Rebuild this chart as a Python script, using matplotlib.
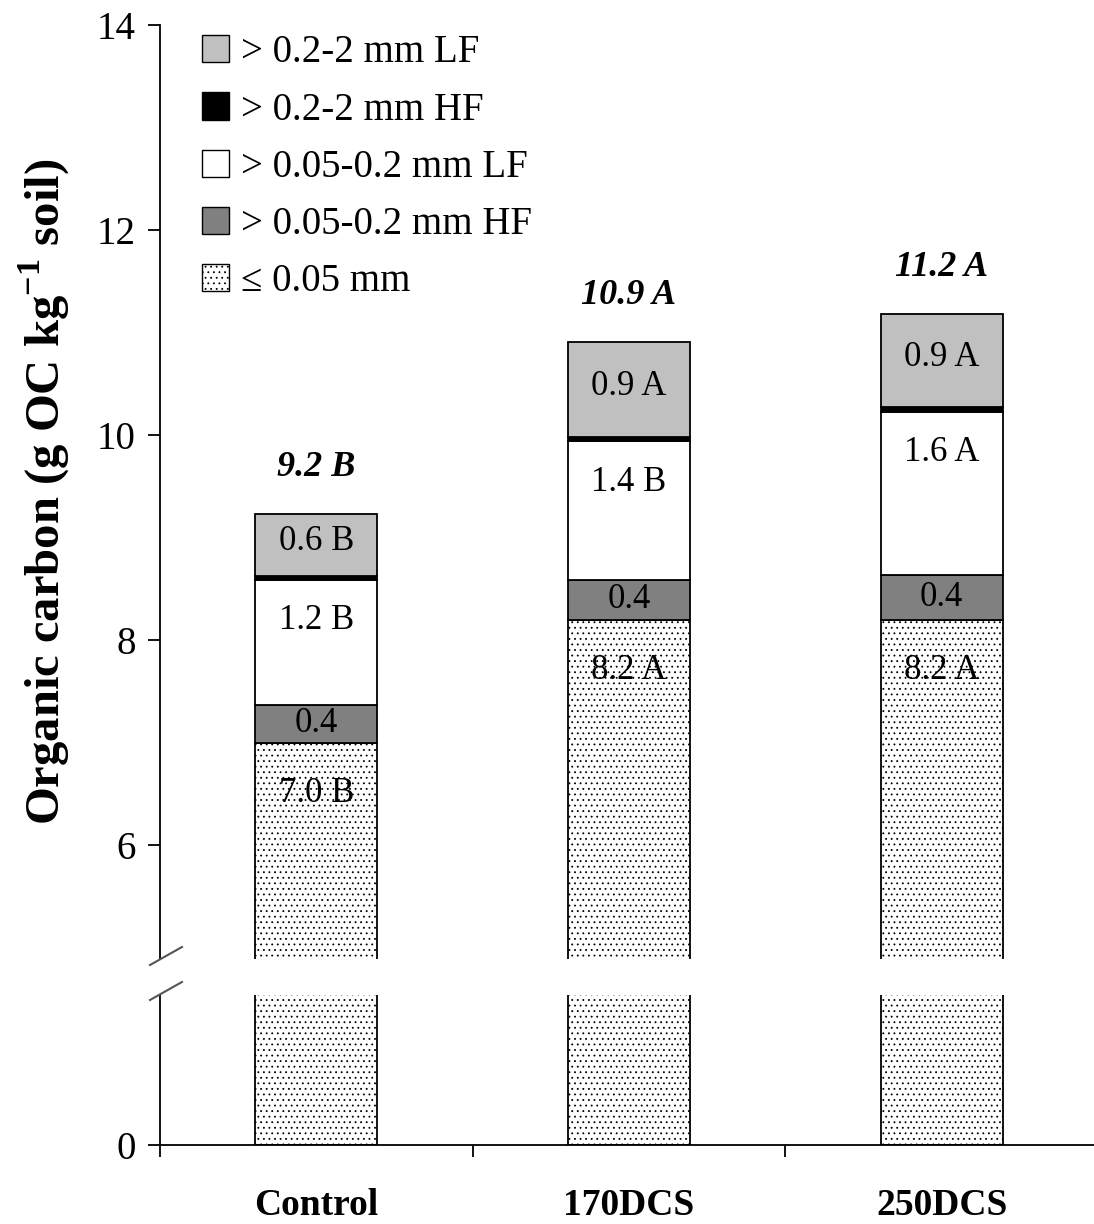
import numpy as np
import matplotlib
matplotlib.use('Agg')
import matplotlib.pyplot as plt
from matplotlib.patches import Patch
from matplotlib.lines import Line2D

plt.rcParams['font.family'] = ['Liberation Serif', 'DejaVu Serif']
plt.rcParams['mathtext.fontset'] = 'custom'
plt.rcParams['mathtext.rm'] = 'Liberation Serif'
plt.rcParams['mathtext.bf'] = 'Liberation Serif:bold'
plt.rcParams['hatch.linewidth'] = 0.6

# data (g OC per kg soil)
cats = ['Control', '170DCS', '250DCS']
fine = [7.0, 8.2, 8.2]          # <= 0.05 mm
hf_005 = [0.37, 0.39, 0.44]     # > 0.05-0.2 mm HF
lf_005 = [1.22, 1.35, 1.59]     # > 0.05-0.2 mm LF
hf_02 = [0.04, 0.04, 0.04]      # > 0.2-2 mm HF
lf_02 = [0.6, 0.93, 0.91]       # > 0.2-2 mm LF

total_lab = ['9.2 B', '10.9 A', '11.2 A']
fine_lab = ['7.0 B', '8.2 A', '8.2 A']
hf005_lab = ['0.4', '0.4', '0.4']
lf005_lab = ['1.2 B', '1.4 B', '1.6 A']
lf02_lab = ['0.6 B', '0.9 A', '0.9 A']

names = ['> 0.2-2 mm LF', '> 0.2-2 mm HF', '> 0.05-0.2 mm LF',
         '> 0.05-0.2 mm HF', '\u2264 0.05 mm']

x = np.arange(len(cats)) + 0.5
w = 0.39

fig = plt.figure(figsize=(10.94, 12.24), dpi=100)
ax = fig.add_axes([0.1463, 0.2165, 0.8574, 0.7631])
axb = fig.add_axes([0.1463, 0.0645, 0.8574, 0.1225])

fine = np.array(fine)
b1 = fine + np.array(hf_005)
b2 = b1 + np.array(lf_005)
b3 = b2 + np.array(hf_02)
tot = b3 + np.array(lf_02)

for a in (ax, axb):
    a.bar(x, fine, w, color='white', edgecolor='black', hatch='...', lw=1.3)
    a.bar(x, hf_005, w, bottom=fine, color='#808080', edgecolor='black', lw=1.3)
    a.bar(x, lf_005, w, bottom=b1, color='white', edgecolor='black', lw=1.3)
    a.bar(x, hf_02, w, bottom=b2, color='black', edgecolor='black', lw=1.3)
    a.bar(x, lf_02, w, bottom=b3, color='#c0c0c0', edgecolor='black', lw=1.3)
    a.set_xlim(0, 3)
    a.spines['top'].set_visible(False)
    a.spines['right'].set_visible(False)
    a.spines['left'].set_linewidth(1.3)
    a.tick_params(axis='y', direction='out', length=8.5, width=1.3,
                  labelsize=28, pad=9)

ax.set_ylim(4.89, 14)
ax.set_yticks([6, 8, 10, 12, 14])
ax.spines['bottom'].set_visible(False)
ax.set_xticks([])

axb.set_ylim(0, 1.46)
axb.set_yticks([0])
axb.spines['bottom'].set_linewidth(1.3)
axb.set_xticks([0, 1, 2, 3])
axb.set_xticklabels([])
axb.set_xticks(x, minor=True)
axb.set_xticklabels(cats, minor=True, fontsize=27, fontweight='bold')
axb.tick_params(axis='x', which='major', direction='out', length=8.5, width=1.3)
axb.tick_params(axis='x', which='minor', length=0, pad=31)

# segment labels
fs = 25
for i in range(3):
    ax.text(x[i], fine[i] - 0.5, fine_lab[i], ha='center', va='center', fontsize=fs)
    ax.text(x[i], (fine[i] + b1[i]) / 2, hf005_lab[i], ha='center', va='center', fontsize=fs)
    ax.text(x[i], b2[i] - 0.4, lf005_lab[i], ha='center', va='center', fontsize=fs)
    ax.text(x[i], (b3[i] + tot[i]) / 2 + 0.03, lf02_lab[i], ha='center', va='center', fontsize=fs)
    ax.text(x[i], tot[i] + 0.45, total_lab[i], ha='center', va='center',
            fontsize=26, fontweight='bold', fontstyle='italic')

ax.set_ylabel(r'Organic carbon (g OC kg$^{\mathbf{-1}}$ soil)', fontsize=35,
              fontweight='bold', labelpad=18)

handles = [Patch(facecolor='#c0c0c0', edgecolor='black'),
           Patch(facecolor='black', edgecolor='black'),
           Patch(facecolor='white', edgecolor='black'),
           Patch(facecolor='#808080', edgecolor='black'),
           Patch(facecolor='white', edgecolor='black', hatch='...')]
ax.legend(handles, names, loc='upper left', bbox_to_anchor=(0.045, 0.99),
          frameon=False, fontsize=28, handlelength=0.7, handleheight=0.7,
          handletextpad=0.3, labelspacing=0.52, borderpad=0, borderaxespad=0)

# axis break marks
W, H = 1094.0, 1224.0
for (x0, y0, x1, y1) in [(150, 965, 182, 947), (150, 1000, 182, 982)]:
    fig.add_artist(Line2D([x0 / W, x1 / W], [1 - y0 / H, 1 - y1 / H],
                          transform=fig.transFigure, color='#555555', lw=1.5))

fig.savefig('out.png', dpi=100)
